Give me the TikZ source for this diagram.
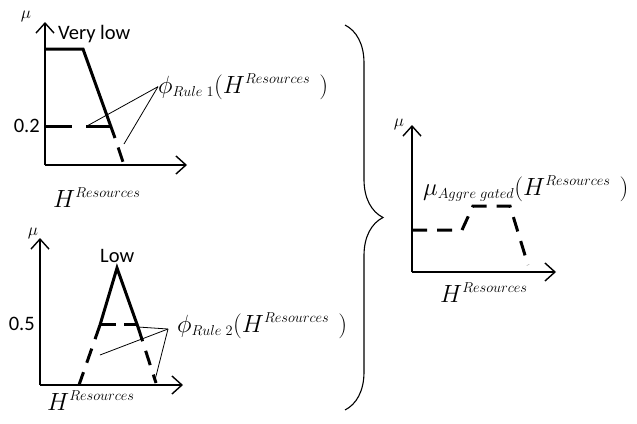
\documentclass[tikz,border=0pt]{standalone}
\usepackage{fontspec}
\setsansfont{Carlito}
\usetikzlibrary{arrows.meta}
\usetikzlibrary{decorations.pathreplacing}
\DeclareMathSizes{30}{30}{14}{11}

\begin{document}
\begin{tikzpicture}[x=1pt,y=-1pt]
\tikzset{axis/.style={line width=1.4pt,-{Straight Barb[length=10pt,width=18pt,line width=1.4pt]}},
  mf/.style={line width=3pt},
  mfcut/.style={line width=3pt,dash pattern=on 15pt off 10pt},
  pointer/.style={line width=0.8pt},
  txt/.style={font=\sffamily\fontsize{20.5}{24}\selectfont,inner sep=0pt},
  lbl/.style={font=\fontsize{30}{34}\selectfont,inner sep=0pt},
  mulbl/.style={font=\fontsize{16}{18}\selectfont,inner sep=0pt}};

    \useasboundingbox (0,0) rectangle (637,423);

    % rule 1: very low
    \coordinate (o1) at (45,165);
    \draw[axis] (o1) -- (45,22);
    \draw[axis] (o1) -- (187,165);
    \node[mulbl] (mu1) at (26,16) {$\mu$};
    \node[txt,anchor=base west] (vlow) at (58,39) {Very low};
    \node[txt,anchor=base east] (v02) at (40,132) {0.2};
    \node[lbl,anchor=base west] (h1) at (53,207) {$H^{Resources}$};
    \node[lbl,anchor=base west] (phi1) at (158,93) {$\phi_{Rule\;1}(H^{Resources}\ )$};
    \coordinate (a1) at (45,49);
    \coordinate (b1) at (83,49);
    \coordinate (c1) at (115,138);
    \coordinate (d1) at (124,165);
    \coordinate (cut1) at (112,126);
    \draw[mf] (a1) -- (b1) -- (c1);
    \draw[mfcut,dash phase=15pt] (c1) -- (d1);
    \draw[mfcut,dash pattern=on 27pt off 14pt] (45,126) -- (cut1);
    \draw[pointer] (phi1.west) -- (87,126);
    \draw[pointer] (phi1.west) -- (124,144);

    % rule 2: low
    \coordinate (o2) at (40,385);
    \draw[axis] (o2) -- (40,238);
    \draw[axis] (o2) -- (183,385);
    \node[mulbl] (mu2) at (33,233) {$\mu$};
    \node[txt,anchor=base west] (low) at (100,262) {Low};
    \node[txt,anchor=base east] (v05) at (35,330) {0.5};
    \node[lbl,anchor=base west] (h2) at (47,410) {$H^{Resources}$};
    \node[lbl,anchor=base west] (phi2) at (177,332) {$\phi_{Rule\;2}(H^{Resources}\ )$};
    \coordinate (top2) at (117,268);
    \coordinate (l2) at (100,325);
    \coordinate (r2) at (138,327);
    \coordinate (lb2) at (79,385);
    \coordinate (rb2) at (156,383);
    \coordinate (q2) at (168,329);
    \draw[mf] (l2) -- (top2) -- (r2);
    \draw[mfcut] (l2) -- (lb2);
    \draw[mfcut] (r2) -- (rb2);
    \draw[mfcut,dash pattern=on 16pt off 8pt] (100,324) -- (138,324);
    \draw[pointer] (q2) -- (r2);
    \draw[pointer] (q2) -- (100,355);
    \draw[pointer] (q2) -- (155,380);

    % brace
    \draw[line width=1.1pt,decorate,decoration={brace,amplitude=38pt}] (345,25) -- (345,410);

    % aggregated
    \coordinate (o3) at (412,272);
    \draw[axis] (o3) -- (412,125);
    \draw[axis] (o3) -- (556,272);
    \node[mulbl] (mu3) at (399,124) {$\mu$};
    \node[lbl,anchor=base west] (h3) at (440,302) {$H^{Resources}$};
    \node[lbl,anchor=base west] (agg) at (423,195) {$\mu_{Aggre\;gated}(H^{Resources}\ )$};
    \draw[mfcut] (412,230) -- (462,230) -- (473,206) -- (510,206) -- (528,265);
\end{tikzpicture}
\end{document}
